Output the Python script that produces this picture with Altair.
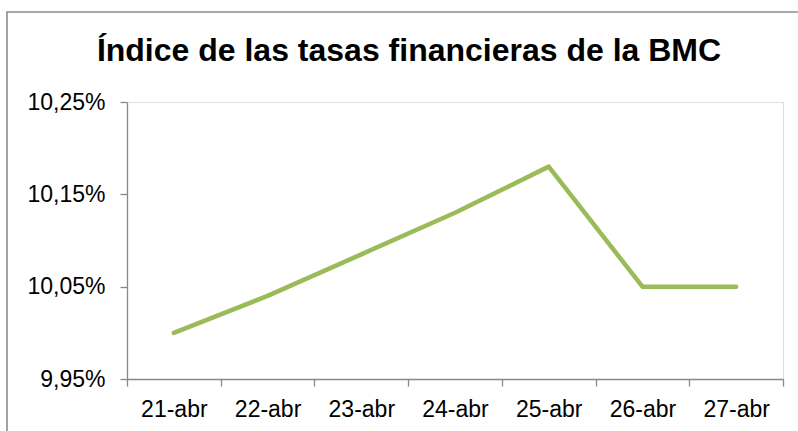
import altair as alt
import pandas as pd

fechas = ["21-abr", "22-abr", "23-abr", "24-abr", "25-abr", "26-abr", "27-abr"]
tasas = [10.00, 10.04, 10.085, 10.13, 10.18, 10.05, 10.05]
y_ticks = [9.95, 10.05, 10.15, 10.25]
titulo = "Índice de las tasas financieras de la BMC"

df = pd.DataFrame({"fecha": fechas, "tasa": tasas})

W, H = 656, 277
FONT = "Liberation Sans"
GRAY = "#888888"

line = alt.Chart(df).mark_line(
    color="#9BBB59", strokeWidth=4.5, strokeCap="round", strokeJoin="round"
).encode(
    x=alt.X("fecha:N", sort=fechas, title=None,
            scale=alt.Scale(paddingInner=0, paddingOuter=0),
            axis=alt.Axis(labelAngle=0, tickBand="extent", tickSize=7,
                          labelPadding=12, domainColor=GRAY, tickColor=GRAY,
                          domainWidth=1.3, tickWidth=1.3, grid=False,
                          labelFontSize=23, labelFont=FONT, labelColor="#000000")),
    y=alt.Y("tasa:Q", title=None,
            scale=alt.Scale(domain=[9.95, 10.25], nice=False, zero=False),
            axis=alt.Axis(values=y_ticks, tickSize=7, labelPadding=15,
                          labelExpr="replace(format(datum.value, '.2f'), '.', ',') + '%'",
                          domainColor=GRAY, tickColor=GRAY, domainWidth=1.3, tickWidth=1.3,
                          grid=False, labelFontSize=23, labelFont=FONT, labelColor="#000000")),
)

border = alt.Chart(pd.DataFrame({"a": [0]})).mark_rect(
    fill="transparent", stroke="#8C8C8C", strokeWidth=1.6
).encode(
    x=alt.value(-120), x2=alt.value(W + 40), y=alt.value(-90), y2=alt.value(H + 80)
)

title = alt.Chart(pd.DataFrame({"t": [titulo]})).mark_text(
    font=FONT, fontSize=32, fontWeight="bold", color="#000000",
    align="center", baseline="alphabetic"
).encode(
    text="t:N", x=alt.value(409 - 127), y=alt.value(61 - 102)
)

chart = alt.layer(border, line, title).properties(
    width=W, height=H,
    autosize=alt.AutoSizeParams(type="none"),
    padding={"left": 127, "top": 102, "right": 15, "bottom": 52},
).configure_view(stroke=None).configure(background="white")

chart.save("out.html", embed_options={"renderer": "svg", "actions": False})
